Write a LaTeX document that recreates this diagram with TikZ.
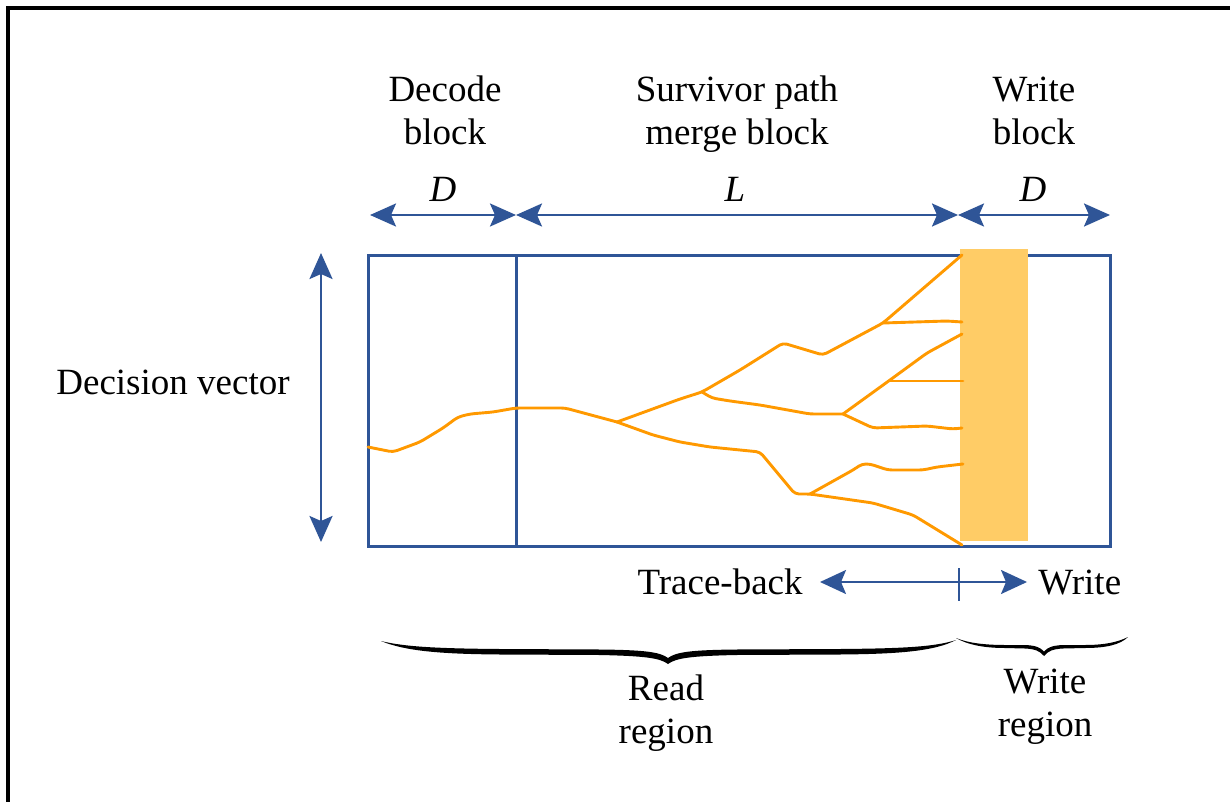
\documentclass[tikz,border=0pt]{standalone}
\usepackage{fontspec}
\setmainfont{Liberation Serif}
\usetikzlibrary{arrows.meta}
\definecolor{dimblue}{RGB}{47,85,151}
\definecolor{trackorange}{RGB}{255,153,0}
\definecolor{barorange}{RGB}{255,204,102}
\tikzset{
  lbl/.style={font=\fontsize{18.5}{21.5}\selectfont, inner sep=0pt, align=center},
  dimarrow/.style={draw=dimblue, line width=1.25pt,
    {Stealth[length=13pt,width=11.5pt,inset=2.5pt]}-{Stealth[length=13pt,width=11.5pt,inset=2.5pt]}},
  thinarrow/.style={draw=dimblue, line width=1pt,
    {Stealth[length=13pt,width=12pt,inset=2.5pt]}-{Stealth[length=13pt,width=12pt,inset=2.5pt]}},
  boxline/.style={draw=dimblue, line width=1.5pt},
  track/.style={draw=trackorange, line width=1.45pt, line join=round, line cap=round, rounded corners=2pt},
}
\begin{document}
\begin{tikzpicture}[x=0.5pt,y=-0.5pt]
\useasboundingbox (0,0) rectangle (1230,802);

% outer frame (top and left edges only)
\draw[line width=2pt] (1230,8) -- (8,8) -- (8,802);

% block labels (base anchor = baseline of the last line)
\node[lbl, anchor=base] (decode) at (445,145) {Decode\\block};
\node[lbl, anchor=base] (merge) at (737,145) {Survivor path\\merge block};
\node[lbl, anchor=base] (write) at (1034,145) {Write\\block};

% span arrows
\coordinate (s0) at (370,215);
\coordinate (s1) at (516,215);
\coordinate (s2) at (958,215);
\coordinate (s3) at (1110,215);
\draw[dimarrow] (s0) -- (s1);
\draw[dimarrow] (s1) -- (s2);
\draw[dimarrow] (s2) -- (s3);
\node[lbl, anchor=base, font=\fontsize{18.5}{21.5}\selectfont\itshape] (dlen1) at (443,202) {D};
\node[lbl, anchor=base, font=\fontsize{18.5}{21.5}\selectfont\itshape] (llen) at (735,202) {L};
\node[lbl, anchor=base, font=\fontsize{18.5}{21.5}\selectfont\itshape] (dlen2) at (1033,202) {D};

% decision vector
\coordinate (v0) at (321,253);
\coordinate (v1) at (321,542);
\draw[dimarrow] (v0) -- (v1);
\node[lbl, anchor=base] (dvec) at (173,394) {Decision vector};

% memory box
\draw[boxline] (368,255) rectangle (1110,546);
\draw[boxline] (516,255) -- (516,546);

% write column
\fill[barorange] (960,249) rectangle (1028,541);

% survivor paths
\draw[track] (368,447) -- (393,452) -- (420,442) -- (443,428) -- (458,417) -- (470,414)
  -- (493,412) -- (516,408) -- (565,408) -- (617,422);
\draw[track] (617,422) -- (680,399) -- (702,392) -- (740,370) -- (783,343) -- (823,355)
  -- (883,323) -- (962,255);
\draw[track] (617,422) -- (653,435) -- (680,442) -- (710,447) -- (760,452) -- (795,494)
  -- (810,494) -- (873,503) -- (913,515) -- (962,545);
\draw[track] (702,392) -- (712,398) -- (730,401) -- (760,405) -- (810,414) -- (843,414);
\draw[track] (843,414) -- (890,380) -- (927,353) -- (962,334);
\draw[track] (890,381) -- (963,381);
\draw[track] (843,414) -- (873,428) -- (927,426) -- (953,429) -- (962,428);
\draw[track] (883,323) -- (947,321) -- (962,322);
\draw[track] (810,494) -- (853,470) -- (862,464) -- (870,464) -- (888,470) -- (923,470)
  -- (937,467) -- (963,464);

% trace-back / write direction
\coordinate (t0) at (820,582);
\coordinate (t1) at (1027,582);
\coordinate (k0) at (959,568);
\coordinate (k1) at (959,601);
\draw[thinarrow] (t0) -- (t1);
\draw[draw=dimblue, line width=1pt] (k0) -- (k1);
\node[lbl, anchor=base east] (trace) at (803,594) {Trace-back};
\node[lbl, anchor=base west] (wdir) at (1038,594) {Write};

% region braces
\fill (381,641) .. controls (405,651) and (440,654) .. (500,654.5) -- (600,655)
  .. controls (645,656) and (660,658) .. (668,664)
  .. controls (676,658) and (691,656) .. (736,655) -- (840,654.5)
  .. controls (900,654) and (935,651) .. (956,640)
  .. controls (935,647) and (900,648.5) .. (840,649) -- (736,649.5)
  .. controls (691,650) and (676,652) .. (668,658)
  .. controls (660,652) and (645,650) .. (600,649.5) -- (500,649)
  .. controls (440,648.5) and (405,647) .. (381,641) -- cycle;
\fill (956,638) .. controls (968,645) and (985,648) .. (1005,648) -- (1025,648.5)
  .. controls (1035,649) and (1040,651) .. (1044,656)
  .. controls (1048,651) and (1053,649) .. (1063,648.5) -- (1085,648)
  .. controls (1105,648) and (1120,645) .. (1128,637)
  .. controls (1118,642) and (1105,645) .. (1085,645) -- (1063,645)
  .. controls (1053,645.5) and (1048,647) .. (1044,651.5)
  .. controls (1040,647) and (1035,645.5) .. (1025,645) -- (1005,645)
  .. controls (985,645) and (968,643) .. (956,638) -- cycle;
\node[lbl, anchor=base] (readr) at (666,743) {Read\\region};
\node[lbl, anchor=base] (writer) at (1045,736) {Write\\region};
\end{tikzpicture}
\end{document}
